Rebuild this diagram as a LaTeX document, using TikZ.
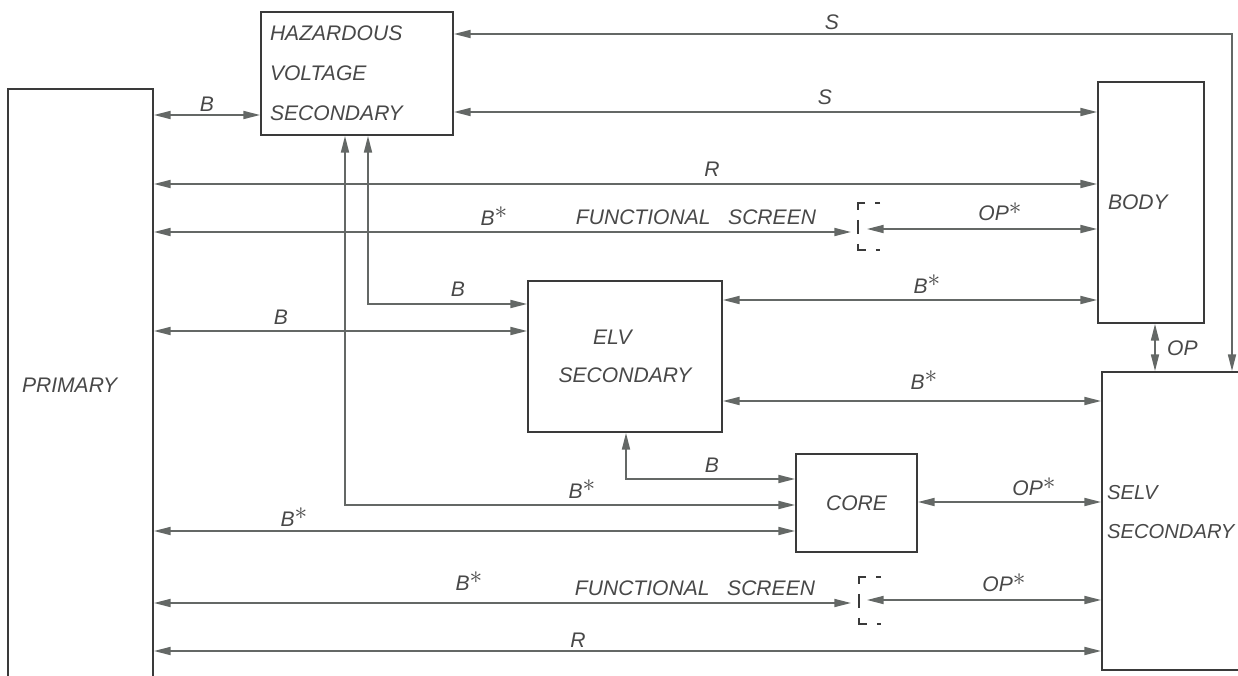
\documentclass[tikz,border=0pt]{standalone}
\usepackage{fontspec}
\setmainfont{Liberation Sans}
\usepackage{tikz}
\usetikzlibrary{arrows.meta}
\definecolor{LineGrey}{RGB}{100,104,102}
\definecolor{BoxGrey}{RGB}{58,58,58}
\definecolor{TextGrey}{RGB}{72,72,72}
\newcommand{\lblfont}{\itshape\fontsize{12}{14}\selectfont}
\newcommand{\Bst}{B\raisebox{0.3em}{\Large$\ast$}}
\newcommand{\OPst}{OP\raisebox{0.3em}{\Large$\ast$}}

\begin{document}
\begin{tikzpicture}[x=0.02cm,y=-0.02cm,>={Triangle[length=9.5pt,width=4.6pt]},
  box/.style={draw=BoxGrey,line width=1.1pt,inner sep=0pt,text=TextGrey,font=\lblfont},
  link/.style={<->,draw=LineGrey,line width=0.85pt},
  lbl/.style={text=TextGrey,font=\lblfont,inner sep=1pt},
  screen/.style={draw=BoxGrey,line width=0.8pt,dash pattern=on 0.28cm off 0.2cm,dash phase=0.18cm}]
  \useasboundingbox (0,0) rectangle (1238,676);
  \clip (0,0) rectangle (1238,676);
  % boxes
  \node[box,minimum width=2.9cm,minimum height=11.84cm,text width=2.34cm,align=left] (prim) at (80.5,385) {PRIMARY};
  \node[box,minimum width=3.84cm,minimum height=2.46cm,text width=3.48cm,align=left,
        font={\itshape\fontsize{12}{22.7}\selectfont}] (hv) at (357,73.5) {HAZARDOUS\\VOLTAGE\\SECONDARY};
  \node[box,minimum width=3.88cm,minimum height=3.02cm,align=center,
        font={\itshape\fontsize{12}{21.6}\selectfont}] (elv) at (625,356.5) {ELV\hspace*{1.2em}\\SECONDARY};
  \node[box,minimum width=2.12cm,minimum height=4.82cm,text width=1.72cm,align=left] (body) at (1151,202.5) {BODY};
  \node[box,minimum width=2.42cm,minimum height=1.96cm] (core) at (856.5,503) {CORE};
  \node[box,minimum width=3.96cm,minimum height=5.96cm] (selv) at (1201,521) {};
  \node[lbl,anchor=west,align=left,font={\itshape\fontsize{11.5}{22.7}\selectfont}] (selvtxt) at (1105,512) {SELV\\SECONDARY};
  % functional screens
  \coordinate (scrA) at (851,232);
  \coordinate (scrB) at (867,229);
  \coordinate (scrC) at (851,603);
  \coordinate (scrD) at (867,600);
  \draw[screen] (880,203) -- (858,203) -- (858,250) -- (880,250);
  \draw[screen] (881,577) -- (859,577) -- (859,624) -- (881,624);
  % connections
  \draw[link] (prim.east |- 0,115) -- (hv.west |- 0,115);
  \draw[link] (hv.east |- 0,34) -| (1232,0 |- selv.north);
  \draw[link] (hv.east |- 0,112) -- (body.west |- 0,112);
  \draw[link] (prim.east |- 0,184) -- (body.west |- 0,184);
  \draw[link] (prim.east |- scrA) -- (scrA);
  \draw[link] (scrB) -- (body.west |- scrB);
  \draw[link] (368,0 |- hv.south) |- (elv.west |- 0,304);
  \draw[link] (345,0 |- hv.south) |- (core.west |- 0,505);
  \draw[link] (prim.east |- 0,331) -- (elv.west |- 0,331);
  \draw[link] (elv.east |- 0,300) -- (body.west |- 0,300);
  \draw[link] (elv.east |- 0,401) -- (selv.west |- 0,401);
  \draw[link] (626,0 |- elv.south) |- (core.west |- 0,479);
  \draw[link] (prim.east |- 0,531) -- (core.west |- 0,531);
  \draw[link] (core.east |- 0,502) -- (selv.west |- 0,502);
  \draw[link] (prim.east |- scrC) -- (scrC);
  \draw[link] (scrD) -- (selv.west |- scrD);
  \draw[link] (prim.east |- 0,651) -- (selv.west |- 0,651);
  \draw[link] (1155,0 |- body.south) -- (1155,0 |- selv.north);
  % labels
  \node[lbl] (lbHv) at (207,104) {B};
  \node[lbl] (lsTop) at (832,22) {S};
  \node[lbl] (lsBody) at (825,97) {S};
  \node[lbl] (lrTop) at (712,169) {R};
  \node[lbl] (lbsScrA) at (494,216) {\Bst};
  \node[lbl] (lfsA) at (696,217) {FUNCTIONAL\ \ \ SCREEN};
  \node[lbl] (lopsA) at (1000,212) {\OPst};
  \node[lbl] (lbHvElv) at (458,289) {B};
  \node[lbl] (lbElv) at (281,317) {B};
  \node[lbl] (lbsBody) at (927,284) {\Bst};
  \node[lbl] (lbsSelv) at (924,380) {\Bst};
  \node[lbl] (lbsHvCore) at (582,489) {\Bst};
  \node[lbl] (lbElvCore) at (712,465) {B};
  \node[lbl] (lbsCore) at (294,517) {\Bst};
  \node[lbl] (lopsCore) at (1034,487) {\OPst};
  \node[lbl] (lbsScrC) at (469,581) {\Bst};
  \node[lbl] (lfsC) at (695,588) {FUNCTIONAL\ \ \ SCREEN};
  \node[lbl] (lopsC) at (1004,583) {\OPst};
  \node[lbl] (lrLow) at (578,640) {R};
  \node[lbl,anchor=west] (lop) at (1165,348) {OP};
\end{tikzpicture}
\end{document}
